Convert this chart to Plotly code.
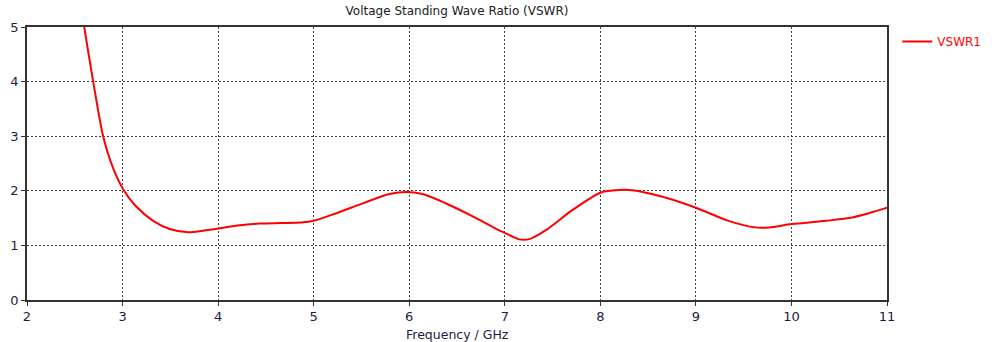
import plotly.graph_objects as go

freq = [2.599, 2.693, 2.797, 2.90, 3.006, 3.128, 3.32, 3.494, 3.686, 3.842, 4.006, 4.226, 4.435,
        4.65, 4.87, 5.0, 5.236, 5.514, 5.793, 5.967, 6.14, 6.42, 6.70, 6.935, 7.0, 7.15, 7.256,
        7.43, 7.71, 8.0, 8.16, 8.335, 8.65, 9.0, 9.34, 9.625, 9.764, 10.0, 10.36, 10.6, 10.81, 11.0]
vswr = [5.0, 4.0, 3.0, 2.42, 2.03, 1.74, 1.45, 1.30, 1.24, 1.27, 1.31, 1.37, 1.40,
        1.41, 1.42, 1.45, 1.59, 1.77, 1.94, 1.98, 1.94, 1.74, 1.50, 1.28, 1.23, 1.11, 1.115,
        1.28, 1.65, 1.965, 2.01, 2.01, 1.89, 1.69, 1.45, 1.33, 1.33, 1.39, 1.45, 1.50, 1.59, 1.69]

x_ticks = [2, 3, 4, 5, 6, 7, 8, 9, 10, 11]
y_ticks = [0, 1, 2, 3, 4, 5]

font_family = "DejaVu Sans"
txt_color = "#1c1c3c"

fig = go.Figure()
fig.add_trace(go.Scatter(
    x=freq, y=vswr, mode="lines", name="VSWR1",
    line=dict(color="#ff0000", width=2, shape="spline", smoothing=0.8),
))

fig.update_layout(
    width=1000, height=342,
    margin=dict(l=27, r=113, t=27, b=42),
    paper_bgcolor="white", plot_bgcolor="white",
    title=dict(text="Voltage Standing Wave Ratio (VSWR)", x=(27 + 430) / 1000, xanchor="center",
               y=1 - 11 / 342, yanchor="middle",
               font=dict(family=font_family, size=12, color="#202020")),
    showlegend=True,
    legend=dict(x=1.012, y=1.0, xanchor="left", yanchor="top",
                font=dict(family=font_family, size=12, color="#ff0000"),
                bgcolor="rgba(0,0,0,0)", itemwidth=30),
    font=dict(family=font_family, size=12, color=txt_color),
    annotations=[dict(text="Frequency / GHz", x=0.5, xref="paper", y=-(334 - 300) / 273, yref="paper",
                      yanchor="middle", xanchor="center", showarrow=False,
                      font=dict(family=font_family, size=12.5, color=txt_color))],
)

fig.update_xaxes(
    range=[2, 11], tickvals=x_ticks, ticktext=[str(v) for v in x_ticks],
    showline=True, linecolor="#333333", linewidth=1.5, mirror=True,
    showgrid=True, gridcolor="#404040", griddash="2px,2px", gridwidth=1,
    ticks="outside", ticklen=4, tickcolor="#333333",
    zeroline=False, automargin=False,
    tickfont=dict(family=font_family, size=13, color=txt_color),
)
fig.update_yaxes(
    range=[0, 5], tickvals=y_ticks, ticktext=[str(v) for v in y_ticks],
    showline=True, linecolor="#333333", linewidth=1.5, mirror=True,
    showgrid=True, gridcolor="#404040", griddash="2px,2px", gridwidth=1,
    ticks="outside", ticklen=4, tickcolor="#333333",
    zeroline=False, automargin=False,
    tickfont=dict(family=font_family, size=13, color=txt_color),
)

fig.write_html("out.html")
